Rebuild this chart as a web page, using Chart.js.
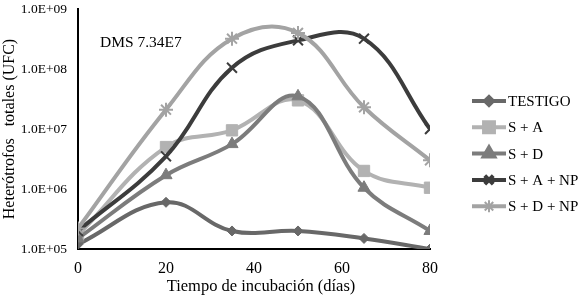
<!DOCTYPE html>
<html>
<head>
<meta charset="utf-8">
<script src="https://cdn.jsdelivr.net/npm/chart.js@4/dist/chart.umd.min.js"></script>
<style>
  body { margin: 0; background: #fff; }
  #wrap { width: 580px; height: 296px; }
</style>
</head>
<body>
<div id="wrap"><canvas id="grafica"></canvas></div>
<script>
// dias de incubacion
const dias = [0, 20, 35, 50, 65, 80];
const series = ["TESTIGO", "S + A", "S + D", "S + A + NP", "S + D + NP"];

const testigo = [1.2e5, 6.0e5, 2.0e5, 2.0e5, 1.5e5, 1.0e5];
const sA      = [1.7e5, 5.0e6, 9.5e6, 3.0e7, 2.0e6, 1.05e6];
const sD      = [1.5e5, 1.7e6, 5.6e6, 3.5e7, 1.05e6, 2.0e5];
const sANP    = [2.0e5, 3.5e6, 1.05e8, 3.0e8, 3.2e8, 1.0e7];
const sDNP    = [2.2e5, 2.1e7, 3.2e8, 4.0e8, 2.3e7, 3.0e6];

const yTicks = [1e5, 1e6, 1e7, 1e8, 1e9];
const xTicks = [0, 20, 40, 60, 80];

const colores = ["#686868", "#b2b2b2", "#7c7c7c", "#3c3c3c", "#a3a3a3"];
const marcas = ["rectRot", "rect", "triangle", "crossRot", "star"];
const tam = [5, 8, 7, 7, 7];
const valores = [testigo, sA, sD, sANP, sDNP];

const fuente = "'Liberation Serif', 'Times New Roman', serif";

function etiquetaExp(v) {
    const e = Math.round(Math.log10(v));
    return "1.0E+" + String(e).padStart(2, "0");
}

function grosor(i) {
    return marcas[i] === "crossRot" || marcas[i] === "star" ? 2 : 1;
}

// leyenda con linea y marcador, a la derecha + textos sueltos
const leyenda = {
    id: "leyenda",
    afterDraw(chart) {
        const ctx = chart.ctx;
        ctx.save();
        series.forEach((nombre, i) => {
            const y = 101 + i * 26.3;
            ctx.strokeStyle = colores[i];
            ctx.fillStyle = colores[i];
            ctx.lineWidth = 4;
            ctx.beginPath();
            ctx.moveTo(472, y);
            ctx.lineTo(506, y);
            ctx.stroke();
            const r = tam[i] - 1;
            if (marcas[i] === "star") {
                // asterisco a mano
                ctx.lineWidth = 2;
                ctx.beginPath();
                for (let k = 0; k < 4; k++) {
                    const a = k * Math.PI / 4;
                    ctx.moveTo(489 - r * Math.cos(a), y - r * Math.sin(a));
                    ctx.lineTo(489 + r * Math.cos(a), y + r * Math.sin(a));
                }
                ctx.stroke();
            } else {
                Chart.helpers.drawPoint(ctx, {
                    pointStyle: marcas[i],
                    rotation: 0,
                    radius: r,
                    borderWidth: grosor(i)
                }, 489, y);
            }
            ctx.fillStyle = "#000";
            ctx.font = "15px " + fuente;
            ctx.textBaseline = "middle";
            ctx.textAlign = "left";
            ctx.fillText(nombre, 508, y + 1);
        });
        ctx.font = "15.5px " + fuente;
        ctx.fillText("DMS 7.34E7", 100, 43);
        ctx.font = "16.5px " + fuente;
        ctx.textAlign = "center";
        ctx.fillText("Tiempo de incubación (días)", 261, 287);
        ctx.restore();
    }
};

const ctx = document.getElementById("grafica").getContext("2d");
new Chart(ctx, {
    type: "line",
    data: {
        datasets: series.map((nombre, i) => ({
            label: nombre,
            data: dias.map((d, j) => ({ x: d, y: valores[i][j] })),
            borderColor: colores[i],
            backgroundColor: colores[i],
            pointBorderColor: colores[i],
            pointStyle: marcas[i],
            pointRadius: tam[i],
            pointBorderWidth: grosor(i),
            borderWidth: 4,
            tension: 0.4,
            fill: false,
            order: 5 - i
        }))
    },
    options: {
        responsive: true,
        maintainAspectRatio: false,
        animation: false,
        layout: { padding: { top: 8, right: 150, left: 0, bottom: 0 } },
        plugins: {
            legend: { display: false },
            tooltip: { enabled: false }
        },
        scales: {
            x: {
                type: "linear",
                min: 0,
                max: 80,
                afterBuildTicks: axis => { axis.ticks = xTicks.map(v => ({ value: v })); },
                afterFit: axis => { axis.height = 47; },
                grid: { display: false, drawTicks: false },
                border: { color: "#000", width: 2 },
                ticks: { color: "#000", font: { family: fuente, size: 16 }, padding: 10 }
            },
            y: {
                type: "logarithmic",
                min: 1e5,
                max: 1e9,
                afterBuildTicks: axis => { axis.ticks = yTicks.map(v => ({ value: v })); },
                afterFit: axis => {
                    axis.width = 78;
                    axis.paddingTop = 0;
                    axis.paddingBottom = 0;
                },
                grid: { display: false, drawTicks: false },
                border: { color: "#000", width: 2 },
                ticks: {
                    color: "#000",
                    font: { family: fuente, size: 13.5 },
                    padding: 11,
                    callback: v => etiquetaExp(v)
                },
                title: {
                    display: true,
                    text: "Heterótrofos   totales (UFC)",
                    color: "#000",
                    font: { family: fuente, size: 16 },
                    padding: { top: 0, bottom: 0 }
                }
            }
        }
    },
    plugins: [leyenda]
});
</script>
</body>
</html>
